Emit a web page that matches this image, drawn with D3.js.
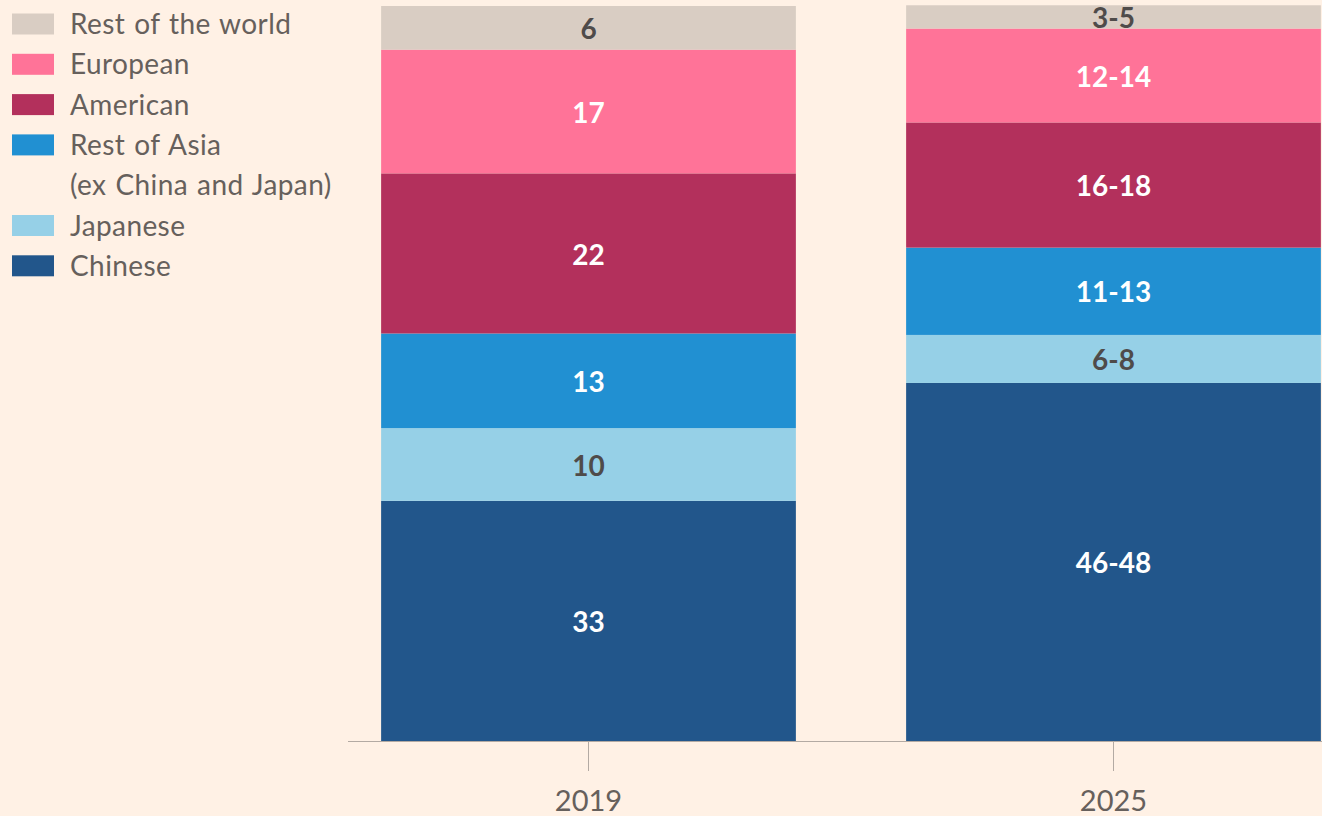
<!DOCTYPE html>
<html>
<head>
<meta charset="utf-8">
<script src="https://cdn.jsdelivr.net/npm/d3@7"></script>
<style>
  html, body { margin: 0; padding: 0; background: #fff1e5; }
  svg { display: block; font-family: Lato, "Open Sans", sans-serif; }
</style>
</head>
<body>
<script>
// Years on the x axis
const years = ["2019", "2025"];

// Series, bottom to top of each stack
const seriesNames = ["Chinese", "Japanese", "Rest of Asia", "American", "European", "Rest of the world"];
const chinese = [33, 49.2];
const japanese = [10, 6.6];
const restOfAsia = [13, 12];
const american = [22, 17.2];
const european = [17, 12.9];
const restOfWorld = [6, 3.2];

// Printed labels inside the segments
const chineseLabels = ["33", "46-48"];
const japaneseLabels = ["10", "6-8"];
const restOfAsiaLabels = ["13", "11-13"];
const americanLabels = ["22", "16-18"];
const europeanLabels = ["17", "12-14"];
const restOfWorldLabels = ["6", "3-5"];

// Legend, top to bottom
const legendLabels = ["Rest of the world", "European", "American", "Rest of Asia\n(ex China and Japan)", "Japanese", "Chinese"];
const legendKeys = ["Rest of the world", "European", "American", "Rest of Asia", "Japanese", "Chinese"];

const colors = {
    "Chinese": "#22568b",
    "Japanese": "#96d0e7",
    "Rest of Asia": "#2190d2",
    "American": "#b3305c",
    "European": "#ff7398",
    "Rest of the world": "#d9cdc3"
};
const darkLabel = { "Japanese": true, "Rest of the world": true };

var valuesBySeries = {
    "Chinese": chinese, "Japanese": japanese, "Rest of Asia": restOfAsia,
    "American": american, "European": european, "Rest of the world": restOfWorld
};
var labelsBySeries = {
    "Chinese": chineseLabels, "Japanese": japaneseLabels, "Rest of Asia": restOfAsiaLabels,
    "American": americanLabels, "European": europeanLabels, "Rest of the world": restOfWorldLabels
};

// build rows for d3.stack
var rows = years.map(function (yr, i) {
    var row = { year: yr, index: i };
    seriesNames.forEach(function (s) { row[s] = valuesBySeries[s][i]; });
    return row;
});

var width = 1322, height = 816;

var svg = d3.select("body")
    .append("svg")
    .attr("width", width)
    .attr("height", height);

var x = d3.scaleBand()
    .domain(years)
    .range([326, 1376])
    .paddingInner(0.21)
    .paddingOuter(0.105);

var y = d3.scaleLinear()
    .domain([0, 101])
    .range([741, 6]);

var stacked = d3.stack().keys(seriesNames)(rows);

// bars
var layers = svg.append("g")
    .selectAll("g")
    .data(stacked)
    .join("g")
    .attr("fill", function (d) { return colors[d.key]; });

layers.selectAll("rect")
    .data(function (d) { return d.map(function (p) { p.key = d.key; return p; }); })
    .join("rect")
    .attr("x", function (d) { return x(d.data.year); })
    .attr("y", function (d) { return y(d[1]); })
    .attr("width", x.bandwidth())
    .attr("height", function (d) { return y(d[0]) - y(d[1]); });

// segment labels
layers.selectAll("text")
    .data(function (d) { return d; })
    .join("text")
    .attr("x", function (d) { return x(d.data.year) + x.bandwidth() / 2; })
    .attr("y", function (d) { return (y(d[0]) + y(d[1])) / 2; })
    .attr("dy", "0.4em")
    .attr("text-anchor", "middle")
    .style("font-size", "28px")
    .style("font-weight", "bold")
    .attr("fill", function (d) { return darkLabel[d.key] ? "#4f4b4a" : "#ffffff"; })
    .text(function (d) { return labelsBySeries[d.key][d.data.index]; });

// x axis
var axis = svg.append("g")
    .attr("transform", "translate(0,741)")
    .call(d3.axisBottom(x).tickSize(30).tickSizeOuter(0).tickPadding(19));
axis.select(".domain").remove();
axis.selectAll(".tick line").attr("stroke", "#b3aaa3");
axis.selectAll(".tick text")
    .attr("fill", "#66605c")
    .style("font-family", "Lato, 'Open Sans', sans-serif")
    .style("font-size", "29px");

svg.append("line")
    .attr("x1", 348).attr("x2", width)
    .attr("y1", 741.5).attr("y2", 741.5)
    .attr("stroke", "#b3aaa3")
    .attr("stroke-width", 1);

// legend
var legend = svg.append("g");
var lineStep = 40.3, rowTop = 24, line = 0;
legendLabels.forEach(function (lab, i) {
    var parts = lab.split("\n");
    var cy = rowTop + line * lineStep;
    legend.append("rect")
        .attr("x", 12).attr("y", cy - 10.5)
        .attr("width", 42).attr("height", 21)
        .attr("fill", colors[legendKeys[i]]);
    parts.forEach(function (p, j) {
        legend.append("text")
            .attr("x", 70)
            .attr("y", cy + j * lineStep)
            .attr("dy", "0.36em")
            .attr("fill", "#66605c")
            .style("font-size", "28px")
            .style("letter-spacing", "0.4px")
            .style("word-spacing", "1.5px")
            .text(p);
    });
    line += parts.length;
});
</script>
</body>
</html>
